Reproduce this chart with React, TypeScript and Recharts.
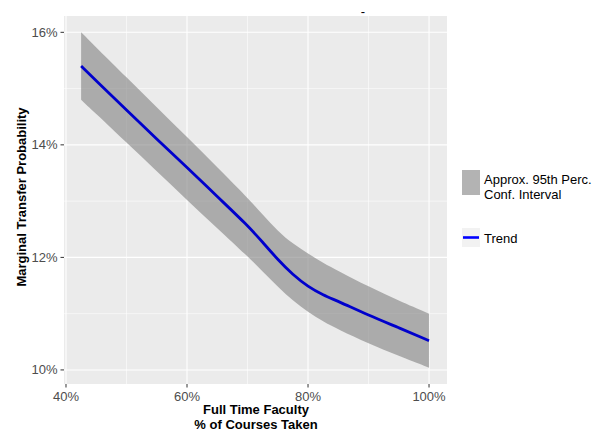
import React from 'react';
import { ComposedChart, Area, Line, XAxis, YAxis, CartesianGrid, Legend } from 'recharts';

const xValues = [42.5, 45, 50, 55, 60, 65, 70, 72.5, 75, 77.5, 80, 82.5, 85, 90, 95, 100];
const trendValues = [15.4, 15.14, 14.62, 14.1, 13.6, 13.08, 12.57, 12.27, 11.96, 11.69, 11.48, 11.33, 11.22, 10.97, 10.75, 10.52];
const upperValues = [16.0, 15.73, 15.2, 14.67, 14.14, 13.6, 13.06, 12.76, 12.47, 12.24, 12.07, 11.9, 11.76, 11.48, 11.23, 11.0];
const lowerValues = [14.8, 14.55, 14.04, 13.53, 13.02, 12.52, 12.02, 11.75, 11.48, 11.23, 11.03, 10.86, 10.72, 10.47, 10.25, 10.04];

const xTicks = [40, 60, 80, 100];
const xMinor = [50, 70, 90];
const yTicks = [10, 12, 14, 16];
const yMinor = [11, 13, 15];

const legendBand = 'Approx. 95th Perc.\nConf. Interval';
const legendTrend = 'Trend';

const data = xValues.map((x, i) => ({
  x,
  trend: trendValues[i],
  band: [lowerValues[i], upperValues[i]],
}));

const FONT = '"Liberation Sans", Arial, Helvetica, sans-serif';

const XTick = (props: any) => {
  const { x, y, payload } = props;
  return (
    <text x={x} y={y} dy="0.71em" textAnchor="middle" fill="#4d4d4d" fontSize={13} fontFamily={FONT}>
      {`${payload.value}%`}
    </text>
  );
};

const YTick = (props: any) => {
  const { x, y, payload } = props;
  return (
    <text x={x} y={y} dy="0.35em" textAnchor="end" fill="#4d4d4d" fontSize={13} fontFamily={FONT}>
      {`${payload.value}%`}
    </text>
  );
};

const LegendContent = () => {
  const lines = legendBand.split('\n');
  return (
    <svg width={140} height={80} style={{ display: 'block', overflow: 'visible' }}>
      <rect x={0} y={0} width={18} height={25} fill="#b3b3b3" />
      <text x={22} y={5} dy="0.71em" fontSize={13} fontFamily={FONT} fill="#000">{lines[0]}</text>
      <text x={22} y={20} dy="0.71em" fontSize={13} fontFamily={FONT} fill="#000">{lines[1]}</text>
      <rect x={0} y={58} width={18} height={19} fill="#f2f2f2" />
      <line x1={1} x2={17} y1={67.5} y2={67.5} stroke="#0000ff" strokeWidth={2.6} />
      <text x={22} y={68} dy="0.35em" fontSize={13} fontFamily={FONT} fill="#000">{legendTrend}</text>
    </svg>
  );
};

export default function App() {
  return (
    <div style={{ position: 'absolute', left: 0, top: 0, width: 604, height: 433, background: '#fff' }}>
      <ComposedChart
        width={604}
        height={433}
        data={data}
        margin={{ top: 16, right: 157, bottom: 0, left: 0 }}
      >
        <CartesianGrid
          fill="#ebebeb"
          stroke="#ffffff"
          strokeWidth={0.55}
          verticalValues={xMinor}
          horizontalValues={yMinor}
        />
        <CartesianGrid
          fill="none"
          stroke="#ffffff"
          strokeWidth={1.1}
          verticalValues={xTicks}
          horizontalValues={yTicks}
        />
        <XAxis
          dataKey="x"
          type="number"
          domain={[39.67, 102.97]}
          ticks={xTicks}
          allowDataOverflow
          axisLine={false}
          tickLine={{ stroke: '#333333', strokeWidth: 1 }}
          tickSize={3.5}
          tickMargin={4}
          tick={<XTick />}
          height={49}
          interval={0}
        />
        <YAxis
          type="number"
          domain={[9.75, 16.29]}
          ticks={yTicks}
          allowDataOverflow
          axisLine={false}
          tickLine={{ stroke: '#333333', strokeWidth: 1 }}
          tickSize={3.5}
          tickMargin={3}
          tick={<YTick />}
          width={64}
          interval={0}
        />
        <Area
          dataKey="band"
          type="basis"
          fill="#808080"
          fillOpacity={0.6}
          stroke="none"
          isAnimationActive={false}
          legendType="none"
        />
        <Line
          dataKey="trend"
          type="basis"
          stroke="#0000cc"
          strokeWidth={2.8}
          dot={false}
          activeDot={false}
          isAnimationActive={false}
        />
        <Legend
          content={<LegendContent />}
          wrapperStyle={{ position: 'absolute', left: 462, top: 170, width: 0, height: 0, overflow: 'visible' }}
        />
      </ComposedChart>
      <svg
        width={604}
        height={433}
        style={{ position: 'absolute', left: 0, top: 0, pointerEvents: 'none' }}
      >
        <text x={363} y={11} dy="0.35em" textAnchor="middle" fontSize={13} fontFamily={FONT} fill="#000">-</text>
        <text x={256} y={409} dy="0.35em" textAnchor="middle" fontSize={13} fontWeight="bold" fontFamily={FONT} fill="#000">
          Full Time Faculty
        </text>
        <text x={256} y={424} dy="0.35em" textAnchor="middle" fontSize={13} fontWeight="bold" fontFamily={FONT} fill="#000">
          % of Courses Taken
        </text>
        <text
          x={21}
          y={197}
          dy="0.35em"
          textAnchor="middle"
          fontSize={13}
          fontWeight="bold"
          fontFamily={FONT}
          fill="#000"
          transform="rotate(-90 21 197)"
        >
          Marginal Transfer Probability
        </text>
      </svg>
    </div>
  );
}
